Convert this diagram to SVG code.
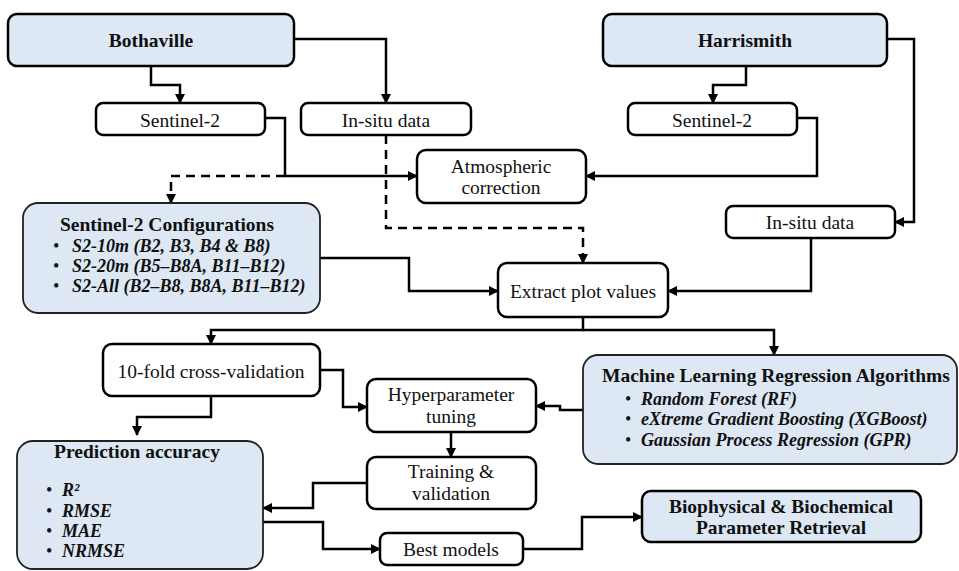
<svg xmlns="http://www.w3.org/2000/svg" width="959" height="571" viewBox="0 0 959 571">
<defs>
<marker id="ah" viewBox="0 0 10 10" refX="9" refY="5" markerWidth="4" markerHeight="4" orient="auto" markerUnits="strokeWidth">
<path d="M0,0 L10,5 L0,10 z" fill="#000"/>
</marker>
<style>
.box{fill:#fff;stroke:#000;stroke-width:2.5}
.blue{fill:#dde8f4;stroke:#000;stroke-width:2.5}
.blue2{fill:#dde8f4;stroke:#222;stroke-width:1.8}
text{font-family:'Liberation Serif','Tinos','DejaVu Serif','Times New Roman',serif;font-size:19.5px;fill:#111}
.c{text-anchor:middle}
.b{font-weight:bold}
.bi{font-weight:bold;font-style:italic;font-size:18px}
.dot{font-size:18px}
.ln{fill:none;stroke:#000;stroke-width:2.5;marker-end:url(#ah)}
.dashA{fill:none;stroke:#000;stroke-width:2.5;stroke-dasharray:9 6;marker-end:url(#ah)}
</style>
</defs>

<g id="connectors">
<path class="ln" d="M151,66 V85 H180 V103"/>
<path class="ln" d="M294,39 H386 V103"/>
<path class="ln" d="M265,118 H285 V176 H417"/>
<path class="dashA" d="M285,176 H171 V203"/>
<path class="dashA" d="M386,135 V228 H583 V263"/>
<path class="ln" d="M746,66 V85 H713 V103"/>
<path class="ln" d="M797,118 H817 V176 H586"/>
<path class="ln" d="M887,39 H914 V222 H895"/>
<path class="ln" d="M811,238 V291 H668"/>
<path class="ln" d="M320,258 H409 V291 H498"/>
<path class="ln" d="M583,317 V330 H211 V344"/>
<path class="ln" d="M583,330 H774 V355"/>
<path class="ln" d="M320,370 H343 V407 H367"/>
<path class="ln" d="M211,396 V417 H137 V435"/>
<path class="ln" d="M583,410 H560 V406 H536"/>
<path class="ln" d="M451,432 V457"/>
<path class="ln" d="M367,483 H313 V508 H263"/>
<path class="ln" d="M263,522 H323 V549 H380"/>
<path class="ln" d="M523,549 H582 V517 H642"/>
</g>

<g id="bothaville">
<rect class="blue" x="8" y="14" width="286" height="52" rx="9"/>
<text class="c b" x="151" y="47">Bothaville</text>
</g>
<g id="harrismith">
<rect class="blue" x="603" y="14" width="284" height="52" rx="9"/>
<text class="c b" x="745" y="47">Harrismith</text>
</g>
<g id="sentinel2-left">
<rect class="box" x="96" y="103" width="169" height="32" rx="7"/>
<text class="c" x="180" y="127">Sentinel-2</text>
</g>
<g id="insitu-left">
<rect class="box" x="301" y="103" width="170" height="32" rx="7"/>
<text class="c" x="386" y="127">In-situ data</text>
</g>
<g id="sentinel2-right">
<rect class="box" x="628" y="103" width="169" height="32" rx="7"/>
<text class="c" x="712" y="127">Sentinel-2</text>
</g>
<g id="atmospheric">
<rect class="box" x="417" y="150" width="169" height="53" rx="9"/>
<text class="c" x="501" y="173">Atmospheric</text>
<text class="c" x="501" y="194">correction</text>
</g>
<g id="insitu-right">
<rect class="box" x="726" y="206" width="169" height="32" rx="7"/>
<text class="c" x="810" y="229">In-situ data</text>
</g>
<g id="s2-config">
<rect class="blue2" x="23" y="203" width="297" height="110" rx="15"/>
<text class="c b" x="167" y="231">Sentinel-2 Configurations</text>
<text class="dot" x="53" y="252">•</text>
<text class="bi" x="72" y="252">S2-10m (B2, B3, B4 &amp; B8)</text>
<text class="dot" x="53" y="272">•</text>
<text class="bi" x="72" y="272">S2-20m (B5–B8A, B11–B12)</text>
<text class="dot" x="53" y="292">•</text>
<text class="bi" x="72" y="292">S2-All (B2–B8, B8A, B11–B12)</text>
</g>
<g id="extract">
<rect class="box" x="498" y="263" width="170" height="54" rx="9"/>
<text class="c" x="583" y="298">Extract plot values</text>
</g>
<g id="cross-validation">
<rect class="box" x="103" y="344" width="217" height="52" rx="9"/>
<text class="c" x="211" y="378">10-fold cross-validation</text>
</g>
<g id="ml-algorithms">
<rect class="blue2" x="583" y="355" width="374" height="109" rx="15"/>
<text class="c b" x="776" y="382">Machine Learning Regression Algorithms</text>
<text class="dot" x="625" y="405">•</text>
<text class="bi" x="641" y="405">Random Forest (RF)</text>
<text class="dot" x="625" y="425">•</text>
<text class="bi" x="641" y="425">eXtreme Gradient Boosting (XGBoost)</text>
<text class="dot" x="625" y="446">•</text>
<text class="bi" x="641" y="446">Gaussian Process Regression (GPR)</text>
</g>
<g id="hyperparameter">
<rect class="box" x="367" y="379" width="169" height="53" rx="9"/>
<text class="c" x="451" y="401">Hyperparameter</text>
<text class="c" x="451" y="423">tuning</text>
</g>
<g id="training">
<rect class="box" x="367" y="457" width="169" height="52" rx="9"/>
<text class="c" x="451" y="478">Training &amp;</text>
<text class="c" x="451" y="500">validation</text>
</g>
<g id="prediction-accuracy">
<rect class="blue2" x="17" y="441" width="246" height="128" rx="16"/>
<text class="c b" x="137" y="458">Prediction accuracy</text>
<text class="dot" x="46" y="496">•</text>
<text class="bi" x="62" y="496">R²</text>
<text class="dot" x="46" y="517">•</text>
<text class="bi" x="62" y="517">RMSE</text>
<text class="dot" x="46" y="537">•</text>
<text class="bi" x="62" y="537">MAE</text>
<text class="dot" x="46" y="557">•</text>
<text class="bi" x="62" y="557">NRMSE</text>
</g>
<g id="best-models">
<rect class="box" x="380" y="533" width="143" height="32" rx="7"/>
<text class="c" x="451" y="556">Best models</text>
</g>
<g id="retrieval">
<rect class="blue" x="642" y="491" width="279" height="51" rx="9"/>
<text class="c b" x="781" y="513">Biophysical &amp; Biochemical</text>
<text class="c b" x="781" y="534">Parameter Retrieval</text>
</g>
</svg>
